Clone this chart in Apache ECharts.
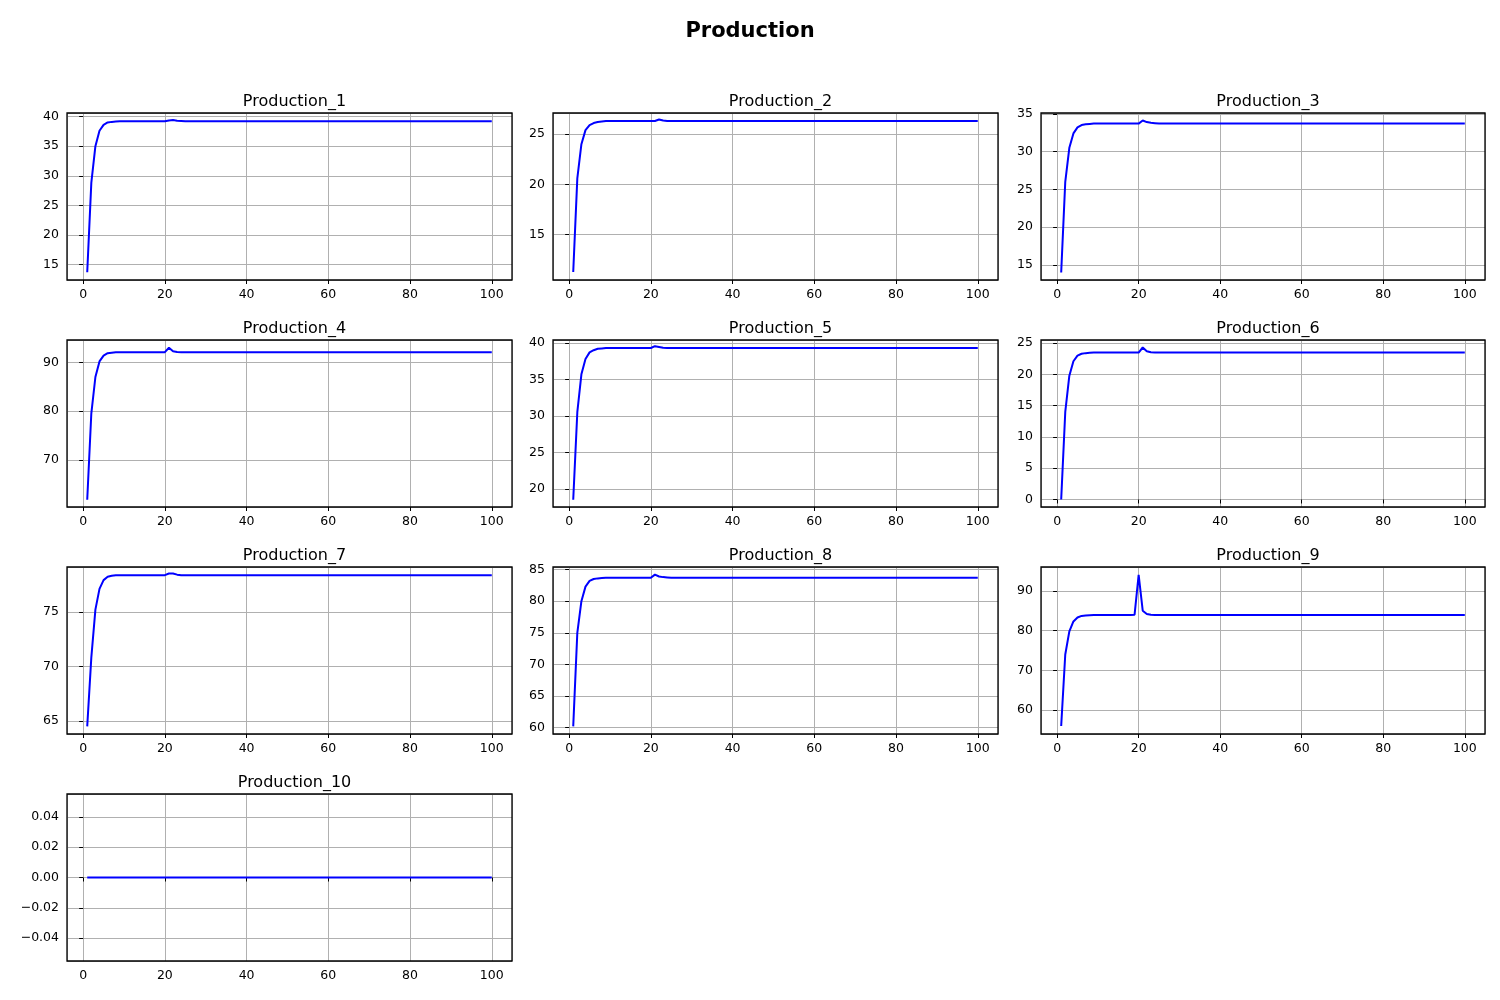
<!DOCTYPE html>
<html><head><meta charset="utf-8">
<script src="https://cdn.jsdelivr.net/npm/echarts@6/dist/echarts.min.js"></script>
<style>html,body{margin:0;padding:0;background:#fff}#c{width:1500px;height:1000px}</style>
</head><body><div id="c"></div>
<script>
const steps = Array.from({length:100},(_,i)=>i+1);
// first 25 values, followed by the flat plateau value
const head1 = [13.7,28.8,35,37.6,38.6,39.0,39.1,39.15,39.2,39.2,39.2,39.2,39.2,39.2,39.2,39.2,39.2,39.2,39.2,39.2,39.35,39.4,39.3,39.25,39.2];
const head2 = [11.3,20.6,24,25.4,25.9,26.1,26.2,26.25,26.3,26.3,26.3,26.3,26.3,26.3,26.3,26.3,26.3,26.3,26.3,26.3,26.3,26.45,26.35,26.3,26.3];
const head3 = [14,26,30.5,32.4,33.2,33.5,33.6,33.65,33.7,33.7,33.7,33.7,33.7,33.7,33.7,33.7,33.7,33.7,33.7,33.7,34.1,33.9,33.8,33.75,33.7];
const head4 = [61.8,79.5,87,90.2,91.4,91.9,92.0,92.1,92.1,92.1,92.1,92.1,92.1,92.1,92.1,92.1,92.1,92.1,92.1,92.1,93.0,92.3,92.15,92.1,92.1];
const head5 = [18.5,30.5,35.7,37.8,38.7,39.0,39.2,39.25,39.3,39.3,39.3,39.3,39.3,39.3,39.3,39.3,39.3,39.3,39.3,39.3,39.55,39.45,39.35,39.3,39.3];
const head6 = [0,14,19.8,22.1,23,23.3,23.4,23.45,23.5,23.5,23.5,23.5,23.5,23.5,23.5,23.5,23.5,23.5,23.5,23.5,24.3,23.7,23.55,23.5,23.5];
const head7 = [64.5,70.8,75.2,77.1,77.9,78.2,78.3,78.35,78.35,78.35,78.35,78.35,78.35,78.35,78.35,78.35,78.35,78.35,78.35,78.35,78.5,78.5,78.4,78.35,78.35];
const head8 = [60.2,75,80,82.3,83.2,83.5,83.6,83.65,83.7,83.7,83.7,83.7,83.7,83.7,83.7,83.7,83.7,83.7,83.7,83.7,84.2,83.9,83.8,83.75,83.7];
const head9 = [56,74,79.8,82.3,83.3,83.7,83.8,83.85,83.9,83.9,83.9,83.9,83.9,83.9,83.9,83.9,83.9,83.9,84,94,85,84.2,84,83.9,83.9];
const head10 = [0,0,0,0,0,0,0,0,0,0,0,0,0,0,0,0,0,0,0,0,0,0,0,0,0];
const plateaus = [39.2,26.3,33.7,92.1,39.3,23.5,78.35,83.7,83.9,0];
const heads = [head1,head2,head3,head4,head5,head6,head7,head8,head9,head10];
const names = ['Production_1','Production_2','Production_3','Production_4','Production_5','Production_6','Production_7','Production_8','Production_9','Production_10'];
const yRanges = [[12.4,40.6,5],[10.5,27.1,5],[13,35.1,5],[60.3,94.6,10],[17.5,40.4,5],[-1.2,25.5,5],[63.8,79.1,5],[59,85.4,5],[54,96,10],[-0.055,0.055,0.02]];

const cols = [[67,512],[553,998],[1041,1485]];
const rows = [[113,280],[340,507],[567,734],[794,961]];
const grids=[],xAxes=[],yAxes=[],series=[],titles=[{text:'Production',left:'center',top:16,textStyle:{fontSize:21,fontWeight:'bold',color:'#000',fontFamily:'DejaVu Sans'}}];
names.forEach((n,i)=>{
  const c=cols[i%3], r=rows[Math.floor(i/3)];
  grids.push({left:c[0],top:r[0],width:c[1]-c[0],height:r[1]-r[0],show:true,borderColor:'#000',borderWidth:1.3,backgroundColor:'transparent',z:5});
  titles.push({text:n,left:(c[0]+c[1])/2,top:r[0]-24,textAlign:'center',textStyle:{fontSize:16,fontWeight:'normal',color:'#000',fontFamily:'DejaVu Sans'}});
  const ax={axisLine:{show:false},axisTick:{show:true,length:4,lineStyle:{color:'#000'}},
    axisLabel:{color:'#000',fontSize:12.5,fontFamily:'DejaVu Sans',showMinLabel:false,showMaxLabel:false},
    splitLine:{show:true,lineStyle:{color:'#b0b0b0',width:1}}};
  xAxes.push(Object.assign({type:'value',gridIndex:i,min:-3.95,max:104.95,splitNumber:5},JSON.parse(JSON.stringify(ax))));
  const yr=yRanges[i];
  const ya=Object.assign({type:'value',gridIndex:i,min:yr[0],max:yr[1],splitNumber:Math.round((yr[1]-yr[0])/yr[2])},JSON.parse(JSON.stringify(ax)));
  if(i===9) ya.axisLabel.formatter=v=>v.toFixed(2).replace('-','\u2212');
  yAxes.push(ya);
  const vals=heads[i].concat(Array(100-heads[i].length).fill(plateaus[i]));
  series.push({type:'line',xAxisIndex:i,yAxisIndex:i,data:steps.map((s,k)=>[s,vals[k]]),showSymbol:false,lineStyle:{color:'#0000ff',width:2},silent:true});
});
const chart=echarts.init(document.getElementById('c'));
chart.setOption({animation:false,title:titles,grid:grids,xAxis:xAxes,yAxis:yAxes,series});
</script></body></html>
